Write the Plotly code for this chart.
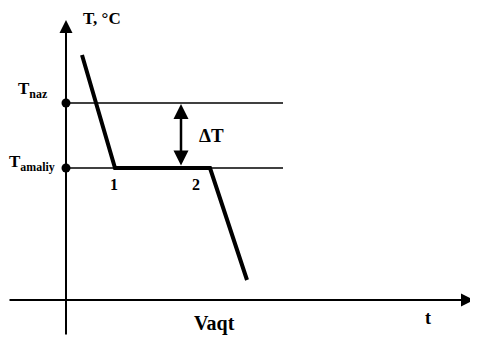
import plotly.graph_objects as go

# process curve (time, temperature) in drawing units, origin at axes crossing
curve_t = [16, 49, 144, 181]
curve_T = [245, 132, 132, 20]
T_naz = 197
T_amaliy = 132
level_end = 217
delta_t = 115
point_labels = ["1", "2"]
point_t = [48, 130]

FONT = "Times New Roman, Liberation Serif, serif"

fig = go.Figure()

# reference levels
for lvl in [T_naz, T_amaliy]:
    fig.add_trace(go.Scatter(x=[0, level_end], y=[lvl, lvl], mode="lines",
                             line=dict(color="black", width=1.5), hoverinfo="none"))

# thick process line
fig.add_trace(go.Scatter(x=curve_t, y=curve_T, mode="lines",
                         line=dict(color="black", width=4), hoverinfo="none"))

# dots on axis
fig.add_trace(go.Scatter(x=[0, 0], y=[T_naz, T_amaliy], mode="markers",
                         marker=dict(color="black", size=9), hoverinfo="none"))

# axes lines with arrows
fig.add_annotation(x=0, y=280, ax=0, ay=-36, xref="x", yref="y", axref="x", ayref="y",
                   showarrow=True, arrowhead=2, arrowsize=1.3, arrowwidth=2, arrowcolor="black", text="")
fig.add_annotation(x=408, y=0, ax=-58, ay=0, xref="x", yref="y", axref="x", ayref="y",
                   showarrow=True, arrowhead=2, arrowsize=1.3, arrowwidth=2, arrowcolor="black", text="")

# delta T double arrow
fig.add_annotation(x=delta_t, y=T_naz - 1, ax=delta_t, ay=T_amaliy + 1, xref="x", yref="y",
                   axref="x", ayref="y", showarrow=True, arrowhead=2, startarrowhead=2,
                   arrowside="end+start", arrowsize=1.2, startarrowsize=1.2, arrowwidth=2.5,
                   arrowcolor="black", text="")

bold = dict(family=FONT, color="black")
fig.add_annotation(x=145, y=165, text="<b>ΔT</b>", showarrow=False, font=dict(size=19, **bold))
fig.add_annotation(x=36, y=282, text="<b>T, °C</b>", showarrow=False, font=dict(size=17, **bold))
fig.add_annotation(x=-33, y=210, text="<b>T<sub>naz</sub></b>", showarrow=False, font=dict(size=17, **bold))
fig.add_annotation(x=-34, y=137, text="<b>T<sub>amaliy</sub></b>", showarrow=False, font=dict(size=17, **bold))
for lab, tx in zip(point_labels, point_t):
    fig.add_annotation(x=tx, y=116, text="<b>" + lab + "</b>", showarrow=False, font=dict(size=16, **bold))
fig.add_annotation(x=148, y=-23, text="<b>Vaqt</b>", showarrow=False, font=dict(size=20, **bold))
fig.add_annotation(x=362, y=-18, text="<b>t</b>", showarrow=False, font=dict(size=18, **bold))

# page body adds an 8px margin, so the figure is drawn 8px smaller and ranges shifted
fig.update_layout(
    width=470, height=332,
    margin=dict(l=0, r=0, t=0, b=0),
    showlegend=False,
    plot_bgcolor="white", paper_bgcolor="white",
    xaxis=dict(range=[-58, 412], visible=False),
    yaxis=dict(range=[-40, 292], visible=False),
)

fig.write_html("out.html")
